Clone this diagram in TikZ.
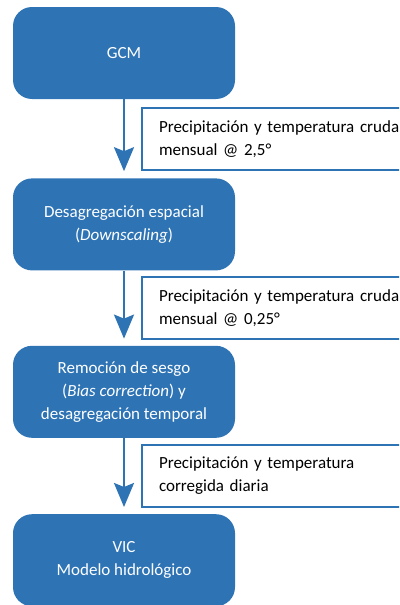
\documentclass[tikz,border=0pt]{standalone}
\usepackage{fontspec}
\setmainfont{Carlito}
\usepackage{tikz}
\usetikzlibrary{arrows.meta, positioning}
\definecolor{flowblue}{RGB}{46,116,181}

\begin{document}
\begin{tikzpicture}[
  every node/.style={font=\fontsize{17}{23}\selectfont},
  stage/.style={fill=flowblue, text=white, rounded corners=19pt, minimum width=222pt, minimum height=92pt, align=center},
  data/.style={draw=flowblue, line width=2pt, fill=white, text=black, anchor=west, xshift=17pt, text width=260pt, inner xsep=17pt, minimum height=62pt, align=left},
  arr/.style={-{Stealth[length=24pt, width=20pt, inset=4pt]}, draw=flowblue, line width=2.5pt, shorten >=7pt}
]
  \clip (0pt,0pt) rectangle (399pt,-605pt);

  \node[stage] (gcm) at (124pt,-53pt) {GCM};
  \node[stage, below=79pt of gcm] (down) {Desagregación espacial\\(\textit{Downscaling})};
  \node[stage, below=75pt of down] (bias) {Remoción de sesgo\\(\textit{Bias correction}) y\\desagregación temporal};
  \node[stage, below=76pt of bias] (vic) {VIC\\Modelo hidrológico};

  \draw[arr] (gcm) -- (down) node[midway, data] (raw) {Precipitación y temperatura cruda\\mensual @ 2,5°};
  \draw[arr] (down) -- (bias) node[midway, data] (fine) {Precipitación y temperatura cruda\\mensual @ 0,25°};
  \draw[arr] (bias) -- (vic) node[midway, data] (daily) {Precipitación y temperatura\\corregida diaria};
\end{tikzpicture}
\end{document}
